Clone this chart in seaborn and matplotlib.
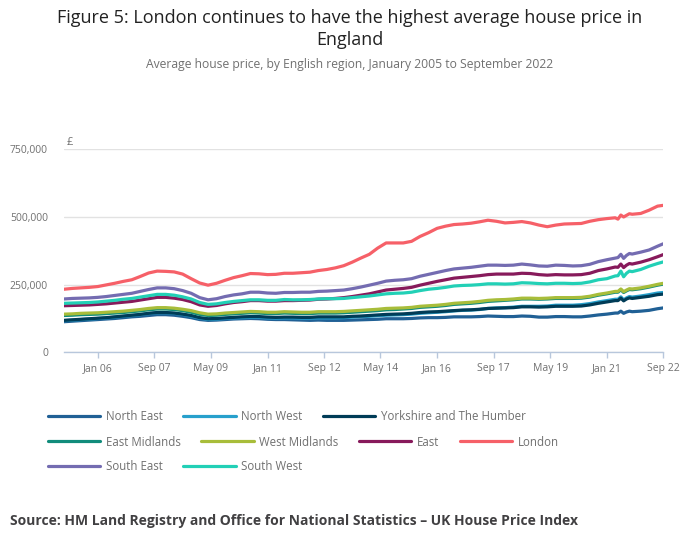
import matplotlib
matplotlib.use("Agg")
import matplotlib.pyplot as plt
import matplotlib.dates as mdates
from matplotlib.lines import Line2D
import seaborn as sns
import pandas as pd

# quarterly readings Jan 2005 - Jan 2021, then monthly round the 2021 stamp duty changes
dates = list(pd.date_range("2005-01-01", "2021-01-01", freq="3MS")) + list(pd.to_datetime([
    "2021-04-01", "2021-05-01", "2021-06-01", "2021-07-01", "2021-08-01", "2021-09-01",
    "2021-10-01", "2022-01-01", "2022-04-01", "2022-07-01", "2022-09-01"]))

# average price, £ thousands
north_east = [113, 115, 117, 119, 121, 123, 125, 128, 131, 133, 136, 139, 139, 137, 133, 128,
              121, 118, 119, 121, 123, 124, 125, 124, 122, 121, 121, 120, 119, 118, 119, 118,
              118, 118, 119, 120, 121, 122, 124, 124, 124, 125, 127, 128, 128, 129, 131, 131,
              131, 132, 134, 133, 132, 132, 134, 133, 130, 130, 132, 132, 131, 131, 134, 138,
              141, 145, 145, 152, 144, 149, 152, 150, 152, 155, 161, 164]
north_west = [117, 119, 121, 123, 125, 127, 130, 133, 136, 139, 143, 146, 146, 144, 140, 134,
              126, 122, 123, 125, 127, 128, 129, 129, 127, 126, 127, 127, 126, 126, 127, 127,
              127, 128, 130, 132, 133, 135, 137, 138, 139, 141, 144, 146, 148, 150, 153, 155,
              156, 158, 162, 164, 165, 167, 170, 170, 170, 171, 174, 174, 174, 176, 180, 186,
              191, 196, 196, 205, 194, 201, 206, 204, 208, 213, 219, 221]
yorkshire = [118, 120, 122, 124, 126, 128, 131, 134, 137, 140, 144, 147, 147, 145, 141, 136,
             128, 124, 125, 127, 129, 131, 132, 132, 130, 129, 130, 130, 129, 129, 131, 131,
             131, 131, 133, 134, 136, 138, 140, 141, 142, 144, 147, 149, 150, 152, 154, 156,
             157, 159, 162, 163, 164, 165, 168, 168, 167, 168, 170, 170, 170, 171, 175, 181,
             186, 191, 191, 200, 190, 197, 201, 199, 203, 207, 213, 215]
east_midlands = [136, 137, 139, 140, 141, 143, 145, 147, 150, 153, 157, 160, 160, 158, 154, 148,
                 140, 136, 137, 140, 142, 144, 146, 145, 143, 143, 145, 144, 143, 143, 145, 145,
                 145, 146, 148, 150, 152, 154, 157, 158, 160, 162, 166, 168, 170, 173, 177, 179,
                 181, 184, 188, 190, 192, 194, 197, 197, 196, 197, 199, 199, 199, 200, 204, 211,
                 216, 222, 222, 231, 221, 227, 232, 231, 235, 241, 248, 252]
west_midlands = [141, 142, 144, 145, 146, 148, 150, 152, 155, 158, 162, 165, 165, 163, 159, 154,
                 146, 141, 142, 145, 147, 149, 151, 150, 148, 148, 150, 149, 148, 148, 150, 150,
                 150, 151, 153, 155, 157, 159, 162, 163, 164, 166, 170, 172, 174, 177, 181, 183,
                 185, 188, 192, 194, 195, 197, 200, 200, 199, 200, 202, 202, 202, 203, 207, 214,
                 219, 225, 225, 234, 224, 230, 235, 234, 238, 244, 251, 255]
east = [172, 173, 174, 175, 177, 179, 182, 185, 188, 193, 198, 203, 203, 200, 195, 187,
        175, 170, 173, 179, 184, 187, 191, 191, 189, 189, 191, 191, 192, 193, 196, 197,
        199, 202, 206, 211, 216, 223, 230, 233, 236, 240, 248, 255, 262, 268, 274, 277,
        280, 283, 287, 289, 289, 289, 292, 291, 287, 285, 287, 286, 286, 287, 292, 302,
        308, 315, 314, 326, 313, 322, 328, 326, 333, 342, 353, 361]
london = [233, 236, 238, 240, 243, 249, 255, 262, 268, 280, 293, 300, 299, 297, 289, 272,
          256, 248, 255, 266, 276, 283, 291, 290, 287, 288, 292, 292, 294, 296, 302, 306,
          312, 320, 333, 348, 362, 385, 404, 404, 404, 410, 428, 442, 458, 466, 472, 474,
          477, 482, 488, 484, 478, 480, 483, 478, 470, 464, 470, 474, 475, 476, 484, 490,
          494, 497, 492, 507, 500, 506, 512, 510, 513, 525, 540, 543]
south_east = [197, 199, 200, 201, 203, 206, 210, 214, 218, 225, 232, 238, 238, 235, 228, 218,
              202, 194, 198, 206, 212, 216, 222, 222, 219, 218, 221, 221, 222, 222, 225, 226,
              228, 230, 235, 241, 248, 255, 263, 266, 268, 272, 281, 288, 295, 302, 308, 311,
              314, 318, 322, 322, 321, 322, 326, 323, 319, 318, 322, 321, 319, 320, 325, 335,
              342, 348, 350, 362, 347, 358, 365, 363, 370, 378, 392, 401]
south_west = [181, 182, 183, 184, 186, 189, 192, 196, 199, 204, 209, 214, 214, 211, 205, 197,
              184, 177, 179, 184, 188, 191, 194, 194, 192, 192, 195, 194, 194, 195, 197, 198,
              198, 199, 202, 205, 208, 212, 216, 218, 219, 222, 228, 233, 236, 240, 245, 247,
              248, 250, 253, 253, 252, 253, 257, 256, 254, 253, 255, 255, 254, 255, 260, 268,
              272, 282, 283, 300, 279, 292, 300, 298, 306, 318, 328, 334]

regions = ["North East", "North West", "Yorkshire and The Humber", "East Midlands",
           "West Midlands", "East", "London", "South East", "South West"]
series = [north_east, north_west, yorkshire, east_midlands, west_midlands, east,
          london, south_east, south_west]
colours = ["#206095", "#27a0cc", "#003c57", "#118c7b", "#a8bd3a", "#871a5b",
           "#f66068", "#746cb1", "#22d0b6"]
legend_rows = [["North East", "North West", "Yorkshire and The Humber"],
               ["East Midlands", "West Midlands", "East", "London"],
               ["South East", "South West"]]
tick_dates = pd.to_datetime(["2006-01-01", "2007-09-01", "2009-05-01", "2011-01-01",
                             "2012-09-01", "2014-05-01", "2016-01-01", "2017-09-01",
                             "2019-05-01", "2021-01-01", "2022-09-01"])

df = pd.concat([pd.DataFrame({"date": dates, "price": [v * 1000 for v in vals], "region": r})
                for r, vals in zip(regions, series)])
palette = dict(zip(regions, colours))

sns.set_theme(style="white")
plt.rcParams["font.family"] = ["Open Sans", "DejaVu Sans"]

grey = "#707070"
axis_col = "#b8c7dc"

fig = plt.figure(figsize=(7, 5.49), dpi=100)
ax = fig.add_axes([64 / 700, 1 - 352.3 / 549, 599.3 / 700, 203 / 549])

sns.lineplot(data=df, x="date", y="price", hue="region", palette=palette,
             hue_order=regions, linewidth=2.3, legend=False, ax=ax)

ax.set_xlim(pd.Timestamp("2005-01-01"), pd.Timestamp("2022-09-01"))
ax.set_ylim(0, 750000)
ax.set_yticks([0, 250000, 500000, 750000])
ax.set_yticklabels(["0", "250,000", "500,000", "750,000"])
ax.set_xticks(tick_dates)
ax.xaxis.set_major_formatter(mdates.DateFormatter("%b %y"))
ax.set_xlabel("")
ax.set_ylabel("")

for s in ["top", "right", "left"]:
    ax.spines[s].set_visible(False)
ax.spines["bottom"].set_color(axis_col)
ax.spines["bottom"].set_linewidth(1)
ax.grid(axis="y", color="#e2e2e2", linewidth=1)
ax.grid(axis="x", visible=False)
ax.set_axisbelow(True)
ax.tick_params(axis="y", length=0, pad=11.5, labelsize=7.5, labelcolor=grey)
ax.tick_params(axis="x", length=4.5, width=1, color=axis_col, pad=3,
               labelsize=7.5, labelcolor=grey, bottom=True)

fig.text(67 / 700, 1 - 143 / 549, "£", fontsize=8, color=grey, ha="left", va="center")

fig.text(0.5, 1 - 18 / 549,
         "Figure 5: London continues to have the highest average house price in",
         ha="center", va="center", fontsize=13, color="#222222")
fig.text(0.5, 1 - 40 / 549, "England", ha="center", va="center", fontsize=13,
         color="#222222")
fig.text(0.5, 1 - 64 / 549,
         "Average house price, by English region, January 2005 to September 2022",
         ha="center", va="center", fontsize=8.7, color=grey)

row_y = [417, 442, 467]
for names, y in zip(legend_rows, row_y):
    handles = [Line2D([0], [0], color=palette[n], linewidth=2.3) for n in names]
    leg = fig.legend(handles, names, loc="center left",
                     bbox_to_anchor=(48 / 700, 1 - y / 549), ncol=len(names),
                     frameon=False, fontsize=8.3, handlelength=4.55, handletextpad=0.5,
                     columnspacing=1.75, borderpad=0, borderaxespad=0)
    for t in leg.get_texts():
        t.set_color(grey)

fig.text(10 / 700, 1 - 521 / 549,
         "Source: HM Land Registry and Office for National Statistics \u2013 UK House Price Index",
         ha="left", va="center", fontsize=10, fontweight="bold", color="#414042")

fig.savefig("out.png", dpi=100)
